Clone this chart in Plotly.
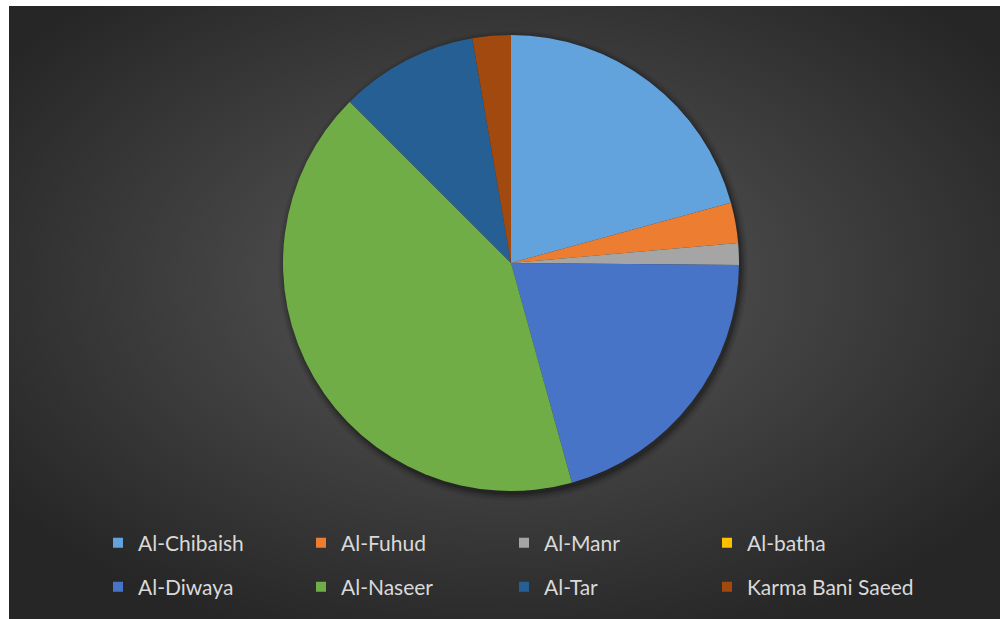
import base64
import plotly.graph_objects as go

# ---- data ----
labels = ["Al-Chibaish", "Al-Fuhud", "Al-Manr", "Al-batha",
          "Al-Diwaya", "Al-Naseer", "Al-Tar", "Karma Bani Saeed"]
values = [20.75, 2.86, 1.53, 0.0, 20.56, 41.81, 9.78, 2.72]
colors = ["#62a3de", "#ed7d31", "#a5a5a5", "#ffc000",
          "#4874c8", "#70ad47", "#265f94", "#a1490f"]

W, H = 1000, 619

def px(x):
    return x / W

def py(y):
    return 1 - y / H

# pie geometry (pixels)
cx, cy, r = 511, 263, 228

fig = go.Figure()

fig.add_trace(go.Pie(
    labels=labels, values=values,
    marker=dict(colors=colors, line=dict(width=0)),
    sort=False, direction="clockwise", rotation=0,
    textinfo="none", hoverinfo="label+percent",
    showlegend=False,
    domain=dict(x=[px(cx - r), px(cx + r)], y=[py(cy + r), py(cy - r)]),
))

# legend entries: row 1 -> legend, row 2 -> legend2, last (long) -> legend3
legend_of = ["legend"] * 4 + ["legend2"] * 3 + ["legend3"]
for lab, col, lg in zip(labels, colors, legend_of):
    fig.add_trace(go.Scatter(
        x=[None], y=[None], mode="markers", name=lab,
        marker=dict(symbol="square", size=10, color=col, line=dict(width=0)),
        legend=lg,
    ))

# radial gradient background as svg image
svg = ("<svg xmlns='http://www.w3.org/2000/svg' width='991' height='613' "
       "viewBox='0 0 991 613' preserveAspectRatio='none'><defs>"
       "<radialGradient id='g' cx='0.5' cy='0.45' r='0.62'>"
       "<stop offset='0' stop-color='#5a5a5a'/>"
       "<stop offset='1' stop-color='#262626'/></radialGradient></defs>"
       "<rect width='991' height='613' fill='url(#g)'/></svg>")
src = "data:image/svg+xml;base64," + base64.b64encode(svg.encode()).decode()

shapes = []
for k, op in [(7, 0.06), (5, 0.08), (3, 0.12), (1, 0.18)]:
    ox, oy = 2, 3
    shapes.append(dict(
        type="circle", xref="paper", yref="paper", layer="below",
        x0=px(cx + ox - r - k), x1=px(cx + ox + r + k),
        y0=py(cy + oy + r + k), y1=py(cy + oy - r - k),
        fillcolor=f"rgba(0,0,0,{op})", line=dict(width=0),
    ))

legend_common = dict(
    orientation="h", xanchor="left", yanchor="middle",
    entrywidth=158, entrywidthmode="pixels",
    font=dict(family="Lato", size=21, color="#d9d9d9"),
    bgcolor="rgba(0,0,0,0)", borderwidth=0,
)
legend_last = dict(legend_common, entrywidth=200)

fig.update_layout(
    width=W, height=H,
    margin=dict(l=0, r=0, t=0, b=0),
    paper_bgcolor="white", plot_bgcolor="rgba(0,0,0,0)",
    xaxis=dict(visible=False), yaxis=dict(visible=False),
    images=[dict(source=src, xref="paper", yref="paper",
                 x=px(9), y=py(6), sizex=px(991), sizey=613 / H,
                 xanchor="left", yanchor="top", sizing="stretch",
                 layer="below")],
    shapes=shapes,
    legend=dict(x=px(98), y=py(543), **legend_common),
    legend2=dict(x=px(98), y=py(587), **legend_common),
    legend3=dict(x=px(98 + 3 * 203), y=py(587), **legend_last),
    showlegend=True,
)

fig.write_html("out.html")
